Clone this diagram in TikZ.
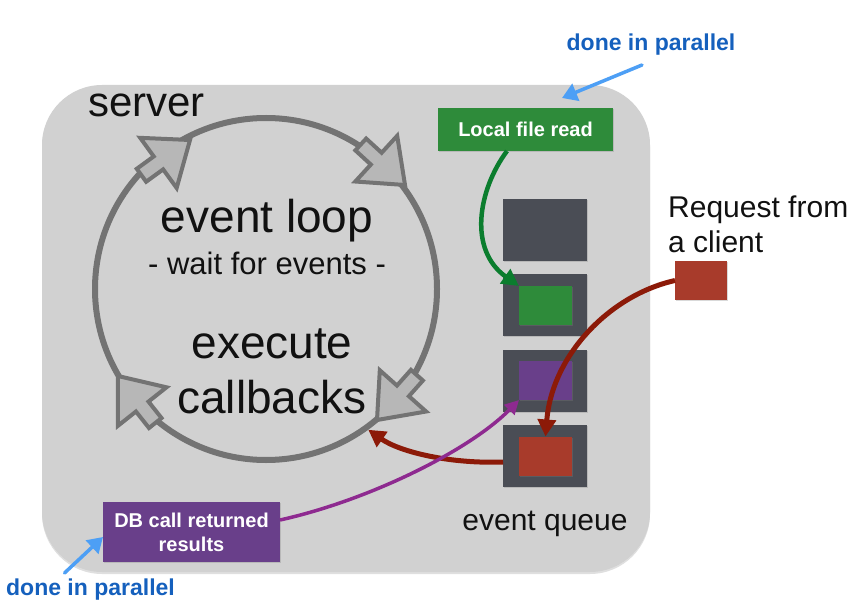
\documentclass[tikz,border=0pt]{standalone}
\usepackage{fontspec}
\setmainfont{Liberation Sans}
\usetikzlibrary{arrows.meta,shadows}
\definecolor{panelc}{HTML}{D1D1D1}
\definecolor{loopc}{HTML}{737373}
\definecolor{loopfill}{HTML}{B7B7B7}
\definecolor{queuec}{HTML}{4A4D55}
\definecolor{greenbox}{HTML}{2E8B3A}
\definecolor{greenarr}{HTML}{0B7D2E}
\definecolor{purplebox}{HTML}{693F8A}
\definecolor{purplearr}{HTML}{8E2A90}
\definecolor{redbox}{HTML}{A83B2B}
\definecolor{redarr}{HTML}{8C1A08}
\definecolor{bluetext}{HTML}{1560BD}
\definecolor{bluearr}{HTML}{4D9FF5}
\definecolor{textc}{HTML}{111111}
\newcommand\loopArrow[3]{\draw[looparrow, shift={(#1,#2)}, rotate=#3] (0,0) -- (-39,31) -- (-39,8) -- (-60,8) -- (-60,-8) -- (-39,-8) -- (-39,-31) -- cycle;}
\begin{document}
\begin{tikzpicture}[x=1pt,y=-1pt,
  txt/.style={inner sep=0pt, text=textc},
  bluetxt/.style={inner sep=0pt, text=bluetext, font=\fontsize{23}{28}\selectfont\bfseries},
  looparrow/.style={draw=loopc, fill=loopfill, line width=4pt, line join=miter},
  qbox/.style={rectangle, fill=queuec, inner sep=0pt, outer sep=0pt, minimum width=84pt, minimum height=62pt,
    drop shadow={shadow xshift=1pt, shadow yshift=-1pt, opacity=.3}},
  sq/.style={rectangle, inner sep=0pt, outer sep=0pt, minimum width=53pt, minimum height=39pt,
    drop shadow={shadow xshift=1pt, shadow yshift=-1pt, opacity=.3}},
  labelbox/.style={rectangle, inner sep=0pt, outer sep=0pt, text=white, align=center,
    font=\fontsize{20}{24}\selectfont\bfseries,
    drop shadow={shadow xshift=1pt, shadow yshift=-1pt, opacity=.3}},
  redconn/.style={draw=redarr, line width=5pt, -{Triangle[length=17pt,width=18pt]}},
  greenconn/.style={draw=greenarr, line width=4.5pt, -{Triangle[length=17pt,width=17pt]}},
  purpleconn/.style={draw=purplearr, line width=3.5pt, -{Triangle[length=14pt,width=14pt]}},
  blueconn/.style={draw=bluearr, line width=3.5pt, line cap=round, -{Triangle[length=15pt,width=18pt]}}
]
\useasboundingbox (0,0) rectangle (850,601);
% server panel
\node[rectangle, fill=panelc, rounded corners=60pt, minimum width=608pt, minimum height=487pt, inner sep=0pt,
  drop shadow={shadow xshift=0pt, shadow yshift=-2pt, opacity=.25}] (srv) at (346,328.5) {};
% event loop circle
\node[circle, draw=loopc, line width=6pt, minimum size=342pt, inner sep=0pt] (loop) at (266,289) {};
\loopArrow{405}{185}{-42.5}
\loopArrow{190}{140}{36}
\loopArrow{377}{420}{-131.7}
\loopArrow{118}{376}{128.4}
% texts
\node[txt, font=\fontsize{42}{50}\selectfont, anchor=base west] (server) at (88,117) {server};
\node[txt, font=\fontsize{46}{55}\selectfont, anchor=base] (evl) at (267,233) {event loop};
\node[txt, font=\fontsize{31}{37}\selectfont, anchor=base] (wait) at (267,275) {- wait for events -};
\node[txt, font=\fontsize{46}{55}\selectfont, anchor=base] (exe) at (272,358) {execute};
\node[txt, font=\fontsize{46}{55}\selectfont, anchor=base] (cb) at (272,413) {callbacks};
\node[txt, font=\fontsize{30}{35}\selectfont, anchor=north west, align=left] (req) at (668,196) {Request from\\a client};
\node[txt, font=\fontsize{30}{36}\selectfont, anchor=base] (eq) at (545,530) {event queue};
\node[bluetxt, anchor=base] (tp) at (651,51) {done in parallel};
\node[bluetxt, anchor=base] (bp) at (90.5,595) {done in parallel};
% event queue
\node[qbox] (q1) at (545,230) {};
\node[qbox] (q2) at (545,305) {};
\node[qbox] (q3) at (545,381) {};
\node[qbox] (q4) at (545,456) {};
\node[sq, fill=greenbox] (g) at (545.5,305.5) {};
\node[sq, fill=purplebox] (p) at (545.5,380.5) {};
\node[sq, fill=redbox] (r) at (545.5,456) {};
\node[sq, fill=redbox, minimum width=52pt] (client) at (701,280.5) {};
% labelled boxes
\node[labelbox, fill=greenbox, minimum width=175pt, minimum height=43pt] (lfr) at (525.5,129.5) {Local file read};
\node[labelbox, fill=purplebox, minimum width=177pt, minimum height=60pt] (db) at (191.5,532) {DB call returned\\results};
% connectors
\draw[greenconn] ([xshift=-18.5pt]lfr.south) .. controls (478,190) and (468,250) .. (g.north west);
\draw[redconn] (client.west) .. controls (610,295) and (552,355) .. (r.north);
\draw[redconn] ([yshift=-6pt]q4.west) .. controls (450,464) and (400,452) .. (loop.-54);
\draw[purpleconn] ([yshift=12pt]db.east) .. controls (370,500) and (470,450) .. (p.south west);
\coordinate (tpend) at (562,98);
\draw[blueconn] ([shift={(-9pt,-14pt)}]tp.base) -- (tpend);
\draw[blueconn] ([shift={(-26pt,22pt)}]bp.base) -- ([yshift=-5pt]db.west);
\end{tikzpicture}
\end{document}
